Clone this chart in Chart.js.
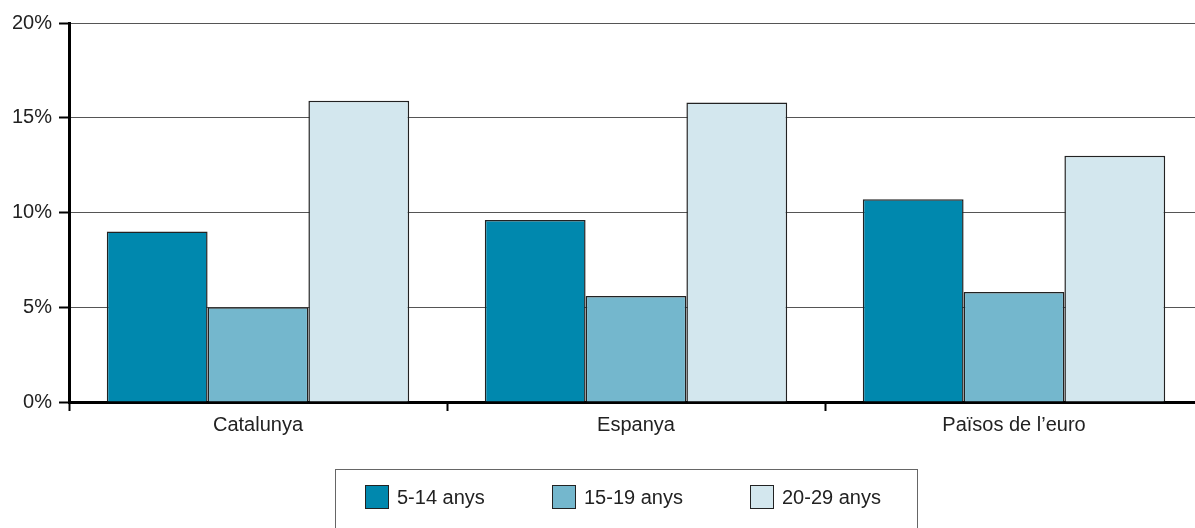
<!DOCTYPE html>
<html>
<head>
<meta charset="utf-8">
<script src="https://cdn.jsdelivr.net/npm/chart.js@4.4.1/dist/chart.umd.min.js"></script>
<style>
  html, body { margin: 0; padding: 0; background: #fff; overflow: hidden; }
  #wrap { width: 1195px; height: 528px; overflow: hidden; }
</style>
</head>
<body>
<div id="wrap"><canvas id="chart" width="1203" height="528"></canvas></div>
<script>
const categories = ["Catalunya", "Espanya", "Països de l’euro"];
const seriesLabels = ["5-14 anys", "15-19 anys", "20-29 anys"];
const age5to14 = [9.0, 9.6, 10.7];
const age15to19 = [5.0, 5.6, 5.8];
const age20to29 = [15.9, 15.8, 13.0];
const yTicks = [0, 5, 10, 15, 20];

const FONT = '"Liberation Sans", Arial, sans-serif';
const TEXT = "#222";
const colors = ["#0088ae", "#74b7cd", "#d3e7ee"];

// legend drawn in a framed box under the axis
const legendBox = {
  id: "legendBox",
  afterDraw(chart) {
    const { ctx } = chart;
    ctx.save();
    ctx.font = "20px " + FONT;
    const box = 24;
    const gap = 67;
    const items = chart.data.datasets.map((ds) => ({
      ds,
      w: box + 8 + ctx.measureText(ds.label).width,
    }));
    const total = items.reduce((s, it) => s + it.w, 0) + gap * (items.length - 1);
    let x = 623 - total / 2;
    ctx.strokeStyle = "#666";
    ctx.lineWidth = 1;
    ctx.strokeRect(Math.round(x - 30) + 0.5, 469.5, Math.round(total + 66), 80);
    const y = 485;
    items.forEach((it) => {
      ctx.fillStyle = it.ds.backgroundColor;
      ctx.fillRect(Math.round(x), y, box, box);
      ctx.strokeStyle = "#222";
      ctx.strokeRect(Math.round(x) + 0.5, y + 0.5, box - 1, box - 1);
      ctx.fillStyle = TEXT;
      ctx.textBaseline = "middle";
      ctx.textAlign = "left";
      ctx.fillText(it.ds.label, Math.round(x) + box + 8, y + box / 2 + 1);
      x += it.w + gap;
    });
    ctx.restore();
  },
};

const seriesData = [age5to14, age15to19, age20to29];

new Chart(document.getElementById("chart"), {
  type: "bar",
  data: {
    labels: categories,
    datasets: seriesData.map((d, i) => ({
      label: seriesLabels[i],
      data: d,
      backgroundColor: colors[i],
      borderColor: "#222",
      borderWidth: 1.5,
      categoryPercentage: 0.8,
      barPercentage: 1.0,
    })),
  },
  options: {
    responsive: false,
    animation: false,
    layout: { padding: { top: 23, right: 0, bottom: 90, left: 0 } },
    plugins: {
      legend: { display: false },
      tooltip: { enabled: false },
    },
    scales: {
      x: {
        afterFit: (s) => { s.height = 36; },
        grid: {
          display: true,
          drawOnChartArea: false,
          drawTicks: true,
          tickLength: 9,
          tickColor: "#000",
          tickWidth: 2,
          offset: true,
        },
        border: { color: "#000", width: 3 },
        ticks: {
          color: TEXT,
          font: { family: FONT, size: 20 },
          padding: 2,
        },
      },
      y: {
        min: 0,
        max: 20,
        afterFit: (s) => { s.width = 69; },
        afterBuildTicks: (s) => { s.ticks = yTicks.map((v) => ({ value: v })); },
        grid: {
          color: "#555",
          lineWidth: 1,
          tickLength: 10,
          tickColor: "#000",
          tickWidth: 2,
        },
        border: { color: "#000", width: 3 },
        ticks: {
          color: TEXT,
          font: { family: FONT, size: 20 },
          padding: 7,
          callback: (v) => v + "%",
        },
      },
    },
  },
  plugins: [legendBox],
});
</script>
</body>
</html>
